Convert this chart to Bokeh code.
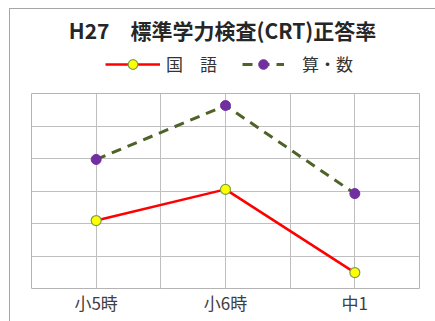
from bokeh.plotting import figure
from bokeh.layouts import column
from bokeh.models import FixedTicker, Label, Legend, LegendItem
from bokeh.embed import file_html
from bokeh.resources import INLINE

title_text = "H27　標準学力検査(CRT)正答率"
categories = ["小5時", "小6時", "中1"]
kokugo = [2.09, 3.05, 0.49]      # 国語 (grid units, no y scale shown)
sansu = [3.97, 5.63, 2.92]       # 算数
series_names = ["国　語", "算・数"]

xpos = [2 * i + 1 for i in range(len(categories))]

RED, YEL, YEL_EDGE = "#ff0000", "#ffff00", "#7aa04a"
OLIVE, PURPLE = "#4f6228", "#7030a0"
FONT = "Noto Sans CJK JP"
NAN = float("nan")

# ---- header figure: title + legend ----
top = figure(width=425, height=84, output_backend="svg", toolbar_location=None,
             x_range=(0, 1), y_range=(0, 1),
             min_border_left=0, min_border_right=0, min_border_top=0, min_border_bottom=0)
top.axis.visible = False
top.grid.visible = False
top.outline_line_color = None
top.border_fill_color = "white"

# legend-only renderers (no visible data)
d1 = top.line([NAN], [NAN], line_color=RED, line_width=2.5)
m1 = top.scatter([NAN], [NAN], size=10, fill_color=YEL, line_color=YEL_EDGE, line_width=1.2)
d2 = top.line([NAN], [NAN], line_color=OLIVE, line_width=3, line_dash="10 7")
m2 = top.scatter([NAN], [NAN], size=10, fill_color=PURPLE, line_color=PURPLE)

common = dict(orientation="horizontal", padding=0, margin=0, spacing=0,
              border_line_alpha=0, background_fill_alpha=0,
              label_text_font=FONT, label_text_font_size="17px",
              label_text_color="#333333", glyph_height=24, label_height=16)
leg1 = Legend(items=[LegendItem(label=series_names[0], renderers=[d1, m1])],
              location=(74, 17), glyph_width=55, label_standoff=6, **common)
leg2 = Legend(items=[LegendItem(label=series_names[1], renderers=[d2, m2])],
              location=(211, 17), glyph_width=42, label_standoff=18, **common)
top.add_layout(leg1, "center")
top.add_layout(leg2, "center")

top.add_layout(Label(x=191, y=64, x_units="screen", y_units="screen", text=title_text,
                     text_align="center", text_baseline="middle",
                     text_font=FONT, text_font_style="bold",
                     text_font_size="21px", text_color="#262626"))

# ---- main chart ----
p = figure(width=425, height=228, output_backend="svg", toolbar_location=None,
           x_range=(0, 6), y_range=(0, 6),
           min_border_left=21, min_border_right=16, min_border_top=0, min_border_bottom=33)
p.background_fill_color = "white"
p.border_fill_color = "white"
p.outline_line_color = "#b3b3b3"
p.outline_line_width = 1

p.yaxis.visible = False
p.xaxis.ticker = FixedTicker(ticks=xpos)
p.xaxis.major_label_overrides = {x: c for x, c in zip(xpos, categories)}
p.xaxis.axis_line_color = None
p.xaxis.major_tick_line_color = None
p.xaxis.minor_tick_line_color = None
p.xaxis.major_tick_out = 0
p.xaxis.major_label_standoff = 1
p.xaxis.major_label_text_font = FONT
p.xaxis.major_label_text_font_size = "17px"
p.xaxis.major_label_text_color = "#404040"

p.xgrid.ticker = FixedTicker(ticks=list(range(0, 7)))
p.ygrid.ticker = FixedTicker(ticks=list(range(0, 7)))
for g in (p.xgrid, p.ygrid):
    g.grid_line_color = "#bfbfbf"
    g.grid_line_width = 1

p.line(xpos, kokugo, line_color=RED, line_width=2.5)
p.scatter(xpos, kokugo, size=10, fill_color=YEL, line_color=YEL_EDGE, line_width=1.2)
p.line(xpos, sansu, line_color=OLIVE, line_width=3, line_dash="10 7")
p.scatter(xpos, sansu, size=10, fill_color=PURPLE, line_color=PURPLE)

layout = column(top, p, spacing=0, margin=(8, 0, 0, 9),
                styles={"border-left": "1px solid #a6a6a6", "border-top": "1px solid #a6a6a6"})

open("out.html", "w").write(file_html(layout, INLINE))
